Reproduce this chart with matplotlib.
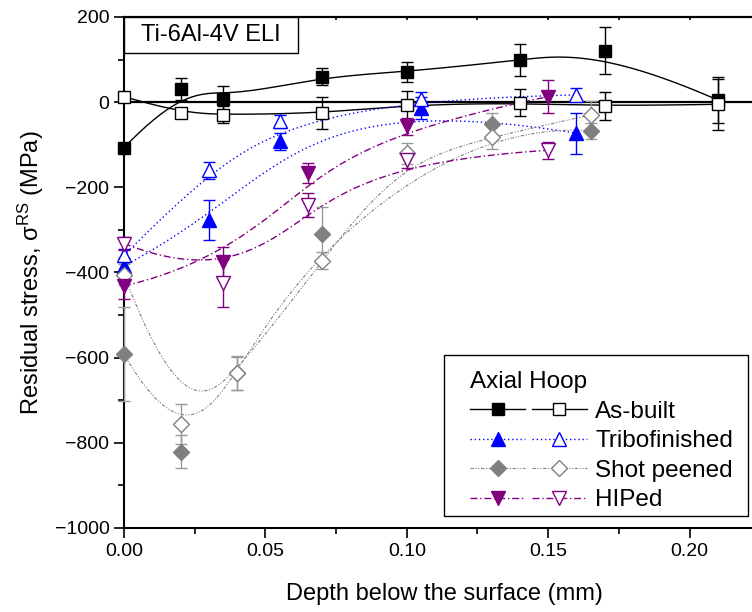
import numpy as np
import matplotlib
matplotlib.use("Agg")
import matplotlib.pyplot as plt
from matplotlib.lines import Line2D
from matplotlib.legend_handler import HandlerTuple
from matplotlib.patches import Rectangle
from matplotlib.ticker import MultipleLocator

plt.rcParams['font.family'] = ['Liberation Sans', 'DejaVu Sans']
plt.rcParams['mathtext.fontset'] = 'custom'
plt.rcParams['mathtext.rm'] = 'Liberation Sans'
plt.rcParams['mathtext.default'] = 'regular'

# depth (mm) and residual stress (MPa)
asbuilt_x = [0.0, 0.02, 0.035, 0.07, 0.10, 0.14, 0.17, 0.21]
asbuilt_axial = [-107, 31, 8, 60, 71, 99, 121, 5]
asbuilt_axial_err = [10, 26, 30, 20, 23, 37, 56, 55]
asbuilt_hoop = [13, -26, -30, -26, -7, -1, -10, -5]
asbuilt_hoop_err = [10, 8, 20, 38, 34, 31, 33, 60]

tribo_x = [0.0, 0.03, 0.055, 0.105, 0.16]
tribo_axial = [-385, -277, -92, -14, -73]
tribo_axial_err = [20, 47, 20, 25, 48]
tribo_hoop = [-360, -160, -45, 8, 17]
tribo_hoop_err = [15, 20, 15, 15, 15]

shot_axial_x = [0.0, 0.02, 0.04, 0.07, 0.13, 0.165]
shot_axial = [-592, -821, -637, -309, -52, -67]
shot_axial_err = [110, 39, 40, 63, 26, 19]
shot_hoop_x = [0.0, 0.02, 0.04, 0.07, 0.10, 0.13, 0.165]
shot_hoop = [-405, -755, -637, -372, -120, -83, -30]
shot_hoop_err = [25, 47, 38, 20, 25, 28, 33]

hip_x = [0.0, 0.035, 0.065, 0.10, 0.15]
hip_axial = [-432, -376, -167, -57, 13]
hip_axial_err = [30, 35, 23, 20, 38]
hip_hoop = [-332, -424, -241, -135, -113]
hip_hoop_err = [15, 56, 28, 20, 20]


def bspline(xs, ys, n=300):
    # clamped cubic B-spline using the points as control points
    P = np.column_stack([xs, ys]).astype(float)
    m = len(P)
    k = 3
    knots = np.concatenate([[0] * (k + 1), np.arange(1, m - k), [m - k] * (k + 1)]).astype(float)
    t = np.linspace(0, m - k - 1e-9, n)
    N = [((knots[i] <= t) & (t < knots[i + 1])).astype(float) for i in range(len(knots) - 1)]
    for d in range(1, k + 1):
        newN = []
        for i in range(len(knots) - 1 - d):
            a = 0 if knots[i + d] == knots[i] else (t - knots[i]) / (knots[i + d] - knots[i]) * N[i]
            b = 0 if knots[i + d + 1] == knots[i + 1] else (knots[i + d + 1] - t) / (knots[i + d + 1] - knots[i + 1]) * N[i + 1]
            newN.append(a + b)
        N = newN
    N = np.array(N)
    return N.T @ P[:, 0], N.T @ P[:, 1]


fig = plt.figure(figsize=(7.52, 6.12), dpi=100)
ax = fig.add_axes([0.1649, 0.1373, 0.8524, 0.8350])

blue = '#0000ff'
gray = '#808080'
purple = '#800080'

series = [
    ('As-built', 'black', 'black', '-', 's', 8, 1.0,
     asbuilt_x, asbuilt_axial, asbuilt_axial_err, asbuilt_x, asbuilt_hoop, asbuilt_hoop_err),
    ('Tribofinished', blue, blue, (0, (1, 2)), '^', 10, 1.0,
     tribo_x, tribo_axial, tribo_axial_err, tribo_x, tribo_hoop, tribo_hoop_err),
    ('Shot peened', gray, '#999999', (0, (3, 1.5, 1, 1.5, 1, 1.5)), 'D', 7.8, 0.8,
     shot_axial_x, shot_axial, shot_axial_err, shot_hoop_x, shot_hoop, shot_hoop_err),
    ('HIPed', purple, purple, (0, (5, 2, 1, 2)), 'v', 10, 1.0,
     hip_x, hip_axial, hip_axial_err, hip_x, hip_hoop, hip_hoop_err),
]

ax.axhline(0, color='black', lw=1.6, zorder=2)

handles = []
labels = []
for name, col, ecol, ls, mk, ms, lw, xa, ya, ea, xh, yh, eh in series:
    cx, cy = bspline(xa, ya)
    ax.plot(cx, cy, color=col, ls=ls, lw=lw, zorder=3)
    cx, cy = bspline(xh, yh)
    ax.plot(cx, cy, color=col, ls=ls, lw=lw, zorder=3)
    ax.errorbar(xa, ya, yerr=ea, fmt=mk, ms=ms, mfc=col, mec=col, ecolor=ecol,
                elinewidth=1, capsize=4, capthick=1, zorder=5, clip_on=False)
    ax.errorbar(xh, yh, yerr=eh, fmt=mk, ms=ms, mfc='white', mec=col, mew=1, ecolor=ecol,
                elinewidth=1, capsize=4, capthick=1, zorder=5, clip_on=False)
    h1 = Line2D([], [], color=col, ls=ls, lw=lw, marker=mk, ms=ms, mfc=col, mec=col)
    h2 = Line2D([], [], color=col, ls=ls, lw=lw, marker=mk, ms=ms, mfc='white', mec=col)
    handles.append((h1, h2))
    labels.append(name)

ax.set_xlim(0, 0.2267)
ax.set_ylim(-1000, 200)
ax.xaxis.set_minor_locator(MultipleLocator(0.025))
ax.yaxis.set_major_locator(MultipleLocator(200))
ax.yaxis.set_minor_locator(MultipleLocator(100))
ax.set_xticks([0, 0.05, 0.10, 0.15, 0.20])
ax.set_xticklabels(['0.00', '0.05', '0.10', '0.15', '0.20'])
ax.tick_params(which='major', direction='out', length=7, width=1.2, labelsize=14)
ax.tick_params(which='minor', direction='out', length=4, width=1.2)
ax.spines['right'].set_visible(False)
for s in ['left', 'bottom', 'top']:
    ax.spines[s].set_linewidth(1.5)

top = ax.secondary_xaxis('top')
top.xaxis.set_major_locator(MultipleLocator(0.025))
top.tick_params(direction='in', length=2, width=1.2, labeltop=False)
top.spines['top'].set_linewidth(1.5)

ax.set_xlabel('Depth below the surface (mm)', fontsize=17, labelpad=17)
ax.set_ylabel('Residual stress, σ$^{RS}$ (MPa)', fontsize=17, labelpad=6)

ax.add_patch(Rectangle((0, 1 - 0.0705), 0.2715, 0.0705, transform=ax.transAxes,
                       fc='white', ec='black', lw=1, zorder=6))
ax.text(0.1357, 0.9648, 'Ti-6Al-4V ELI', transform=ax.transAxes, ha='center', va='center',
        fontsize=17, zorder=7)

fig.patches.append(Rectangle((444 / 752, 1 - 516 / 612), 304 / 752, 161 / 612,
                             transform=fig.transFigure, fc='white', ec='black', lw=1, zorder=8))
leg = fig.legend(handles, labels, handler_map={tuple: HandlerTuple(ndivide=None, pad=0.27)},
                 loc='upper left', bbox_to_anchor=(470 / 752, 1 - 371 / 612),
                 frameon=False, fontsize=17.5, title='Axial Hoop', title_fontsize=17.5,
                 alignment='left', numpoints=1, handlelength=4.8, handletextpad=0.35,
                 labelspacing=0.31, borderpad=0, borderaxespad=0)
leg.set_zorder(9)

fig.savefig('out.png', dpi=100)
